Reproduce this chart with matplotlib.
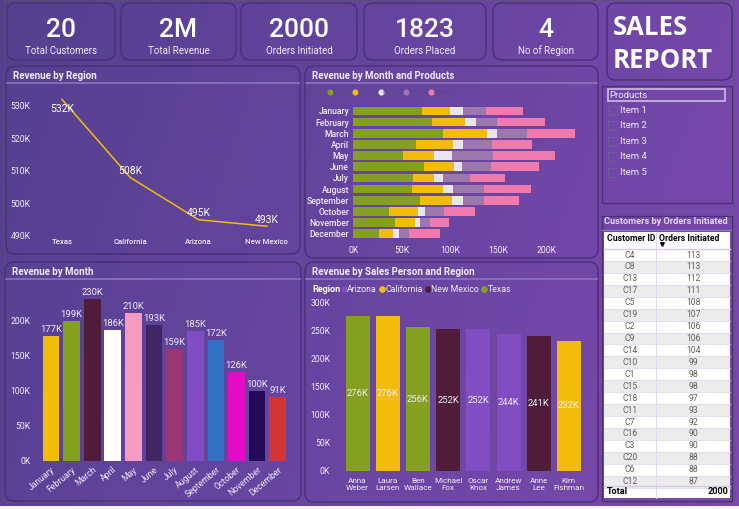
import numpy as np
import matplotlib
matplotlib.use('Agg')
import matplotlib.pyplot as plt
from matplotlib.colors import LinearSegmentedColormap
from matplotlib.lines import Line2D
from matplotlib.patches import FancyBboxPatch, Rectangle

plt.rcParams['font.family'] = ['Roboto', 'DejaVu Sans']

W, H = 739, 509

kpi_values = ['20', '2M', '2000', '1823', '4']
kpi_names = ['Total Customers', 'Total Revenue', 'Orders Initiated', 'Orders Placed', 'No of Region']

regions = ['Texas', 'California', 'Arizona', 'New Mexico']
region_revenue = [532, 508, 495, 493]

months = ['January', 'February', 'March', 'April', 'May', 'June', 'July',
          'August', 'September', 'October', 'November', 'December']
month_revenue = [177, 199, 230, 186, 210, 193, 159, 185, 172, 126, 100, 91]
month_colors = ['#F2BC0A', '#85A021', '#4F1C3A', '#FFFFFF', '#F59BBF', '#3F2766',
                '#9C3777', '#824CC2', '#3370C4', '#E30BC4', '#240A58', '#D23535']

product_names = ['Item 1', 'Item 2', 'Item 3', 'Item 4', 'Item 5']
product_colors = ['#85A021', '#F2BC0A', '#E8E6EC', '#9C78AC', '#F07AAE']
item1 = [71, 81, 93, 65, 51, 73, 62, 61, 69, 37, 43, 27]
item2 = [29, 35, 45, 38, 33, 31, 21, 32, 33, 30, 21, 14]
item3 = [13, 11, 11, 10, 18, 8, 10, 10, 12, 7, 5, 6]
item4 = [24, 22, 31, 31, 43, 30, 28, 32, 21, 20, 10, 11]
item5 = [39, 49, 49, 41, 64, 50, 36, 49, 36, 32, 20, 32]

sales_people = ['Anna\nWeber', 'Laura\nLarsen', 'Ben\nWallace', 'Michael\nFox',
                'Oscar\nKnox', 'Andrew\nJames', 'Anne\nLee', 'Kim\nFishman']
sales_revenue = [276, 276, 256, 252, 252, 244, 241, 232]
sales_region = ['Texas', 'California', 'Texas', 'New Mexico',
                'Arizona', 'Arizona', 'New Mexico', 'California']
region_colors = {'Arizona': '#824CC2', 'California': '#F2BC0A',
                 'New Mexico': '#4F1C3A', 'Texas': '#85A021'}

customer_ids = ['C4', 'C8', 'C13', 'C17', 'C5', 'C19', 'C2', 'C9', 'C14', 'C10',
                'C1', 'C15', 'C18', 'C11', 'C7', 'C16', 'C3', 'C20', 'C6', 'C12']
orders = [113, 113, 112, 111, 108, 107, 106, 106, 104, 99,
          98, 98, 97, 93, 92, 90, 90, 88, 88, 87]

TEXT = '#F1EAFB'
EDGE = '#4B2F75'
RULE = '#8C75BA'

fig = plt.figure(figsize=(W / 100, H / 100), dpi=100)

canvas = fig.add_axes([0, 0, 1, 1], zorder=0)
canvas.set_xlim(0, W)
canvas.set_ylim(H, 0)
canvas.axis('off')

gx, gy = np.meshgrid(np.linspace(0, 1, 200), np.linspace(0, 1, 140))
bg_map = LinearSegmentedColormap.from_list('bg', ['#54408F', '#6845A1', '#7C49AE'])
canvas.imshow(0.8 * gx + 0.2 * gy, cmap=bg_map, extent=(0, W, H, 0), aspect='auto', zorder=0)
canvas.set_xlim(0, W)
canvas.set_ylim(H, 0)
canvas.add_patch(Rectangle((0, 506), W, 3, fc='#F3F3F3', ec='none', zorder=1))


def panel(x0, y0, x1, y1, r=9, lw=1.0):
    canvas.add_patch(FancyBboxPatch((x0 + r, y0 + r), x1 - x0 - 2 * r, y1 - y0 - 2 * r,
                                    boxstyle='round,pad=%d,rounding_size=%d' % (r, r),
                                    fc='none', ec=EDGE, lw=lw, zorder=2))


def chart_panel(x0, y0, x1, y1, title):
    panel(x0, y0, x1, y1)
    canvas.text(x0 + 7, y0 + 10, title, color=TEXT, fontsize=7, fontweight='bold',
                va='center', ha='left', zorder=3)
    canvas.plot([x0 + 1, x1 - 1], [y0 + 16.5, y0 + 16.5], color=RULE, lw=1.2, zorder=3)


def add_chart(x0, y0, x1, y1):
    ax = fig.add_axes([x0 / W, 1 - y1 / H, (x1 - x0) / W, (y1 - y0) / H], zorder=2)
    ax.patch.set_alpha(0)
    for s in ax.spines.values():
        s.set_visible(False)
    ax.tick_params(length=0, labelcolor=TEXT, labelsize=6.2)
    return ax


def k_format(v, pos=None):
    return '%dK' % v


# dotted frame of the report page
canvas.plot([5, 5, 734, 734, 5], [1, 503, 503, 1, 1], color='#5A5570', lw=1.2,
            linestyle=(0, (1, 1)), zorder=2)

# kpi cards
kpi_boxes = [(7, 115), (121, 236), (241, 357), (364, 486), (493, 598)]
for (x0, x1), val, name in zip(kpi_boxes, kpi_values, kpi_names):
    panel(x0, 3, x1, 60)
    canvas.text((x0 + x1) / 2, 29.5, val, color='white', fontsize=19, ha='center',
                va='center', fontweight='medium', zorder=3)
    canvas.text((x0 + x1) / 2, 50.5, name, color=TEXT, fontsize=7, ha='center',
                va='center', zorder=3)

# title card
panel(607, 3, 732, 80)
canvas.text(613, 27, 'SALES', color='white', fontsize=18.5, fontweight='bold',
            family='Open Sans', va='center', zorder=3)
canvas.text(613, 60, 'REPORT', color='white', fontsize=18.5, fontweight='bold',
            family='Open Sans', va='center', zorder=3)

# slicer
canvas.add_patch(Rectangle((601.5, 86), 130, 117, fc='none', ec=EDGE, lw=0.9, zorder=2))
canvas.add_patch(Rectangle((607.5, 89), 117.5, 12, fc='none', ec='#CDBDE6', lw=1.2, zorder=3))
canvas.text(609, 95.5, 'Products', color=TEXT, fontsize=6.8, va='center', zorder=3)
for name, y in zip(product_names, [110.7, 125.7, 141.5, 156.7, 172.7]):
    canvas.add_patch(Rectangle((607.5, y - 4.5), 9, 9, fc='none', ec='#6F5A96', lw=0.8, zorder=3))
    canvas.text(620, y, name, color=TEXT, fontsize=6.8, va='center', zorder=3)

# revenue by region
chart_panel(6, 66, 300, 254, 'Revenue by Region')
ax = add_chart(33.3, 90, 301, 236)
ax.plot(range(len(regions)), region_revenue, color='#F2BC0A', lw=1.1)
ax.set_xlim(-0.42, 3.5)
ax.set_ylim(490, 534.9)
ax.set_yticks([490, 500, 510, 520, 530])
ax.yaxis.set_major_formatter(k_format)
ax.set_xticks(range(len(regions)), regions, fontsize=5.6, fontweight='medium')
ax.tick_params(axis='y', pad=2)
ax.tick_params(axis='x', pad=2.5)
for i, v in enumerate(region_revenue):
    dy = -7 if i == 0 else 4.5
    ax.annotate('%dK' % v, (i, v), xytext=(0, dy), textcoords='offset points',
                color='white', fontsize=7.5, ha='center', va='center', annotation_clip=False)

# revenue by month and products
chart_panel(305, 66, 598, 258, 'Revenue by Month and Products')
ax = add_chart(353.3, 105.4, 590, 239.3)
left = np.zeros(len(months))
for name, values, color in zip(product_names, [item1, item2, item3, item4, item5], product_colors):
    ax.barh(months, values, left=left, height=0.78, color=color, label=name)
    left += np.array(values)
ax.set_ylim(11.5, -0.5)
ax.set_xlim(0, 244.9)
ax.set_xticks([0, 50, 100, 150, 200])
ax.xaxis.set_major_formatter(k_format)
ax.tick_params(axis='y', pad=3)
ax.tick_params(axis='x', pad=5)
plt.setp(ax.get_yticklabels(), fontweight='medium')
canvas.text(311, 92.5, 'Item', color='#5C4A86', fontsize=5, fontweight='bold', va='center', ha='left', zorder=3)
handles = [Line2D([], [], marker='o', ls='', color=c, ms=3.4) for c in product_colors]
item_legend = canvas.legend(handles, product_names, loc='center left', bbox_to_anchor=(327.2, 92.5),
                            bbox_transform=canvas.transData, ncol=5, frameon=False, fontsize=5,
                            labelcolor='#5C4A86', handlelength=0.8, handletextpad=0, columnspacing=0,
                            borderpad=0, borderaxespad=0)
item_legend.set_zorder(3)
canvas.add_artist(item_legend)

# revenue by month
chart_panel(5, 262, 301, 501, 'Revenue by Month')
ax = add_chart(40.7, 285, 288, 461)
bars = ax.bar(months, month_revenue, width=0.81, color=month_colors)
ax.bar_label(bars, labels=['%dK' % v for v in month_revenue], color=TEXT, fontsize=6.8, padding=1.5)
ax.set_xlim(-0.5, 11.5)
ax.set_ylim(0, 250)
ax.set_yticks([0, 50, 100, 150, 200])
ax.yaxis.set_major_formatter(k_format)
ax.tick_params(axis='y', pad=7.5)
ax.tick_params(axis='x', pad=3)
plt.setp(ax.get_xticklabels(), rotation=40, ha='right', rotation_mode='anchor')

# revenue by sales person and region
chart_panel(305, 262, 598, 502, 'Revenue by Sales Person and Region')
ax = add_chart(342.6, 295, 584, 471)
colors = [region_colors[r] for r in sales_region]
bars = ax.bar(sales_people, sales_revenue, width=0.795, color=colors)
ax.bar_label(bars, labels=['%dK' % v for v in sales_revenue], label_type='center',
             color=TEXT, fontsize=6.8)
ax.set_xlim(-0.5, 7.5)
ax.set_ylim(0, 176 / 0.5622)
ax.set_yticks([0, 50, 100, 150, 200, 250, 300])
ax.yaxis.set_major_formatter(k_format)
ax.tick_params(axis='y', pad=9)
ax.tick_params(axis='x', pad=5)
plt.setp(ax.get_xticklabels(), fontsize=5.9)
canvas.text(312, 289.5, 'Region', color='white', fontsize=6.5, fontweight='bold',
            va='center', zorder=3)
handles = [Line2D([], [], marker='o', ls='', color=c, ms=3.8) for c in region_colors.values()]
region_legend = canvas.legend(handles, list(region_colors), loc='center left', bbox_to_anchor=(340, 289.5),
                              bbox_transform=canvas.transData, ncol=4, frameon=False, fontsize=6.3,
                              labelcolor=TEXT, handlelength=0.8, handletextpad=0, columnspacing=0.2,
                              borderpad=0, borderaxespad=0)
region_legend.set_zorder(3)

# table
canvas.add_patch(Rectangle((601.5, 216), 130.5, 285, fc='none', ec=EDGE, lw=0.9, zorder=2))
canvas.text(604, 222, 'Customers by Orders Initiated', color='#E6D8F8', fontsize=6.6,
            fontweight='bold', va='center', zorder=3)
canvas.plot([602, 731], [229.5, 229.5], color=RULE, lw=1, zorder=3)
canvas.add_patch(Rectangle((604, 232), 126, 266, fc='white', ec='none', zorder=3))
canvas.text(607, 238.5, 'Customer ID', color='black', fontsize=6.2, fontweight='bold', va='center', zorder=4)
canvas.text(659, 238.5, 'Orders Initiated', color='black', fontsize=6.2, fontweight='bold', va='center', zorder=4)
canvas.plot([661.7], [244.3], marker='v', ms=2.6, color='black', zorder=4)
canvas.plot([604, 730], [248.5, 248.5], color='#D8C9EA', lw=1, zorder=4)
row_h = 11.93
for i, (cid, n) in enumerate(zip(customer_ids, orders)):
    y = 255 + i * row_h
    if i % 2:
        canvas.add_patch(Rectangle((604, y - row_h / 2), 126, row_h, fc='#ECECEC', ec='none', zorder=3))
    canvas.plot([604, 730], [y + row_h / 2, y + row_h / 2], color='#E2D8EE', lw=0.6, zorder=4)
    canvas.text(630, y, cid, color='#605E5C', fontsize=6.2, ha='center', va='center', zorder=4)
    canvas.text(693.7, y, str(n), color='#605E5C', fontsize=6.2, ha='center', va='center', zorder=4)
canvas.plot([656, 656], [232, 498], color='#E2D8EE', lw=0.7, zorder=4)
canvas.plot([604, 730], [485.5, 485.5], color='#D8C9EA', lw=1, zorder=4)
canvas.text(607, 492, 'Total', color='black', fontsize=6.6, fontweight='bold', va='center', zorder=4)
canvas.text(728, 492, '2000', color='black', fontsize=6.6, fontweight='bold', va='center', ha='right', zorder=4)

fig.savefig('out.png', dpi=100)
